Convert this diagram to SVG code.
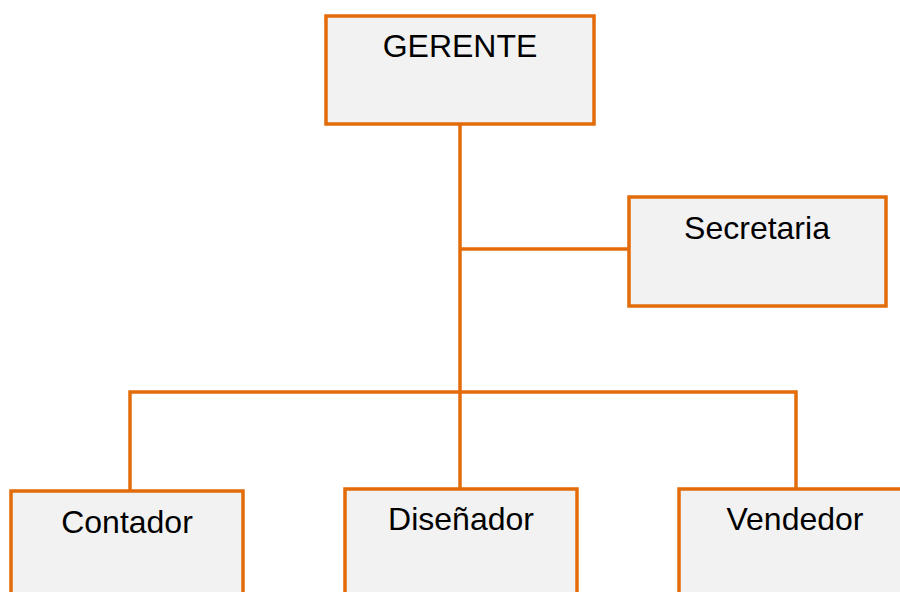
<svg xmlns="http://www.w3.org/2000/svg" width="900" height="592" viewBox="0 0 900 592">
<style>
.box{fill:#F2F2F2;stroke:#E36C0A;stroke-width:3.5}
.ln{fill:none;stroke:#E36C0A;stroke-width:3.5}
.t{font-family:"Liberation Sans",Arial,sans-serif;font-size:32px;fill:#000;text-anchor:middle}
</style>
<rect width="900" height="592" fill="#fff"/>
<g id="connectors">
<line class="ln" x1="460" y1="124" x2="460" y2="392"/>
<line class="ln" x1="460" y1="249" x2="629" y2="249"/>
<polyline class="ln" points="130,491 130,392 796,392 796,489"/>
<line class="ln" x1="460" y1="392" x2="460" y2="489"/>
</g>
<g id="gerente">
<rect class="box" x="326" y="16" width="268" height="108"/>
<text class="t" x="460" y="57">GERENTE</text>
</g>
<g id="secretaria">
<rect class="box" x="629" y="197" width="257" height="109"/>
<text class="t" x="757" y="239">Secretaria</text>
</g>
<g id="contador">
<rect class="box" x="11" y="491" width="232" height="110"/>
<text class="t" x="127" y="533">Contador</text>
</g>
<g id="disenador">
<rect class="box" x="345" y="489" width="232" height="110"/>
<text class="t" x="461" y="530">Diseñador</text>
</g>
<g id="vendedor">
<rect class="box" x="679" y="489" width="232" height="110"/>
<text class="t" x="795" y="530">Vendedor</text>
</g>
</svg>
